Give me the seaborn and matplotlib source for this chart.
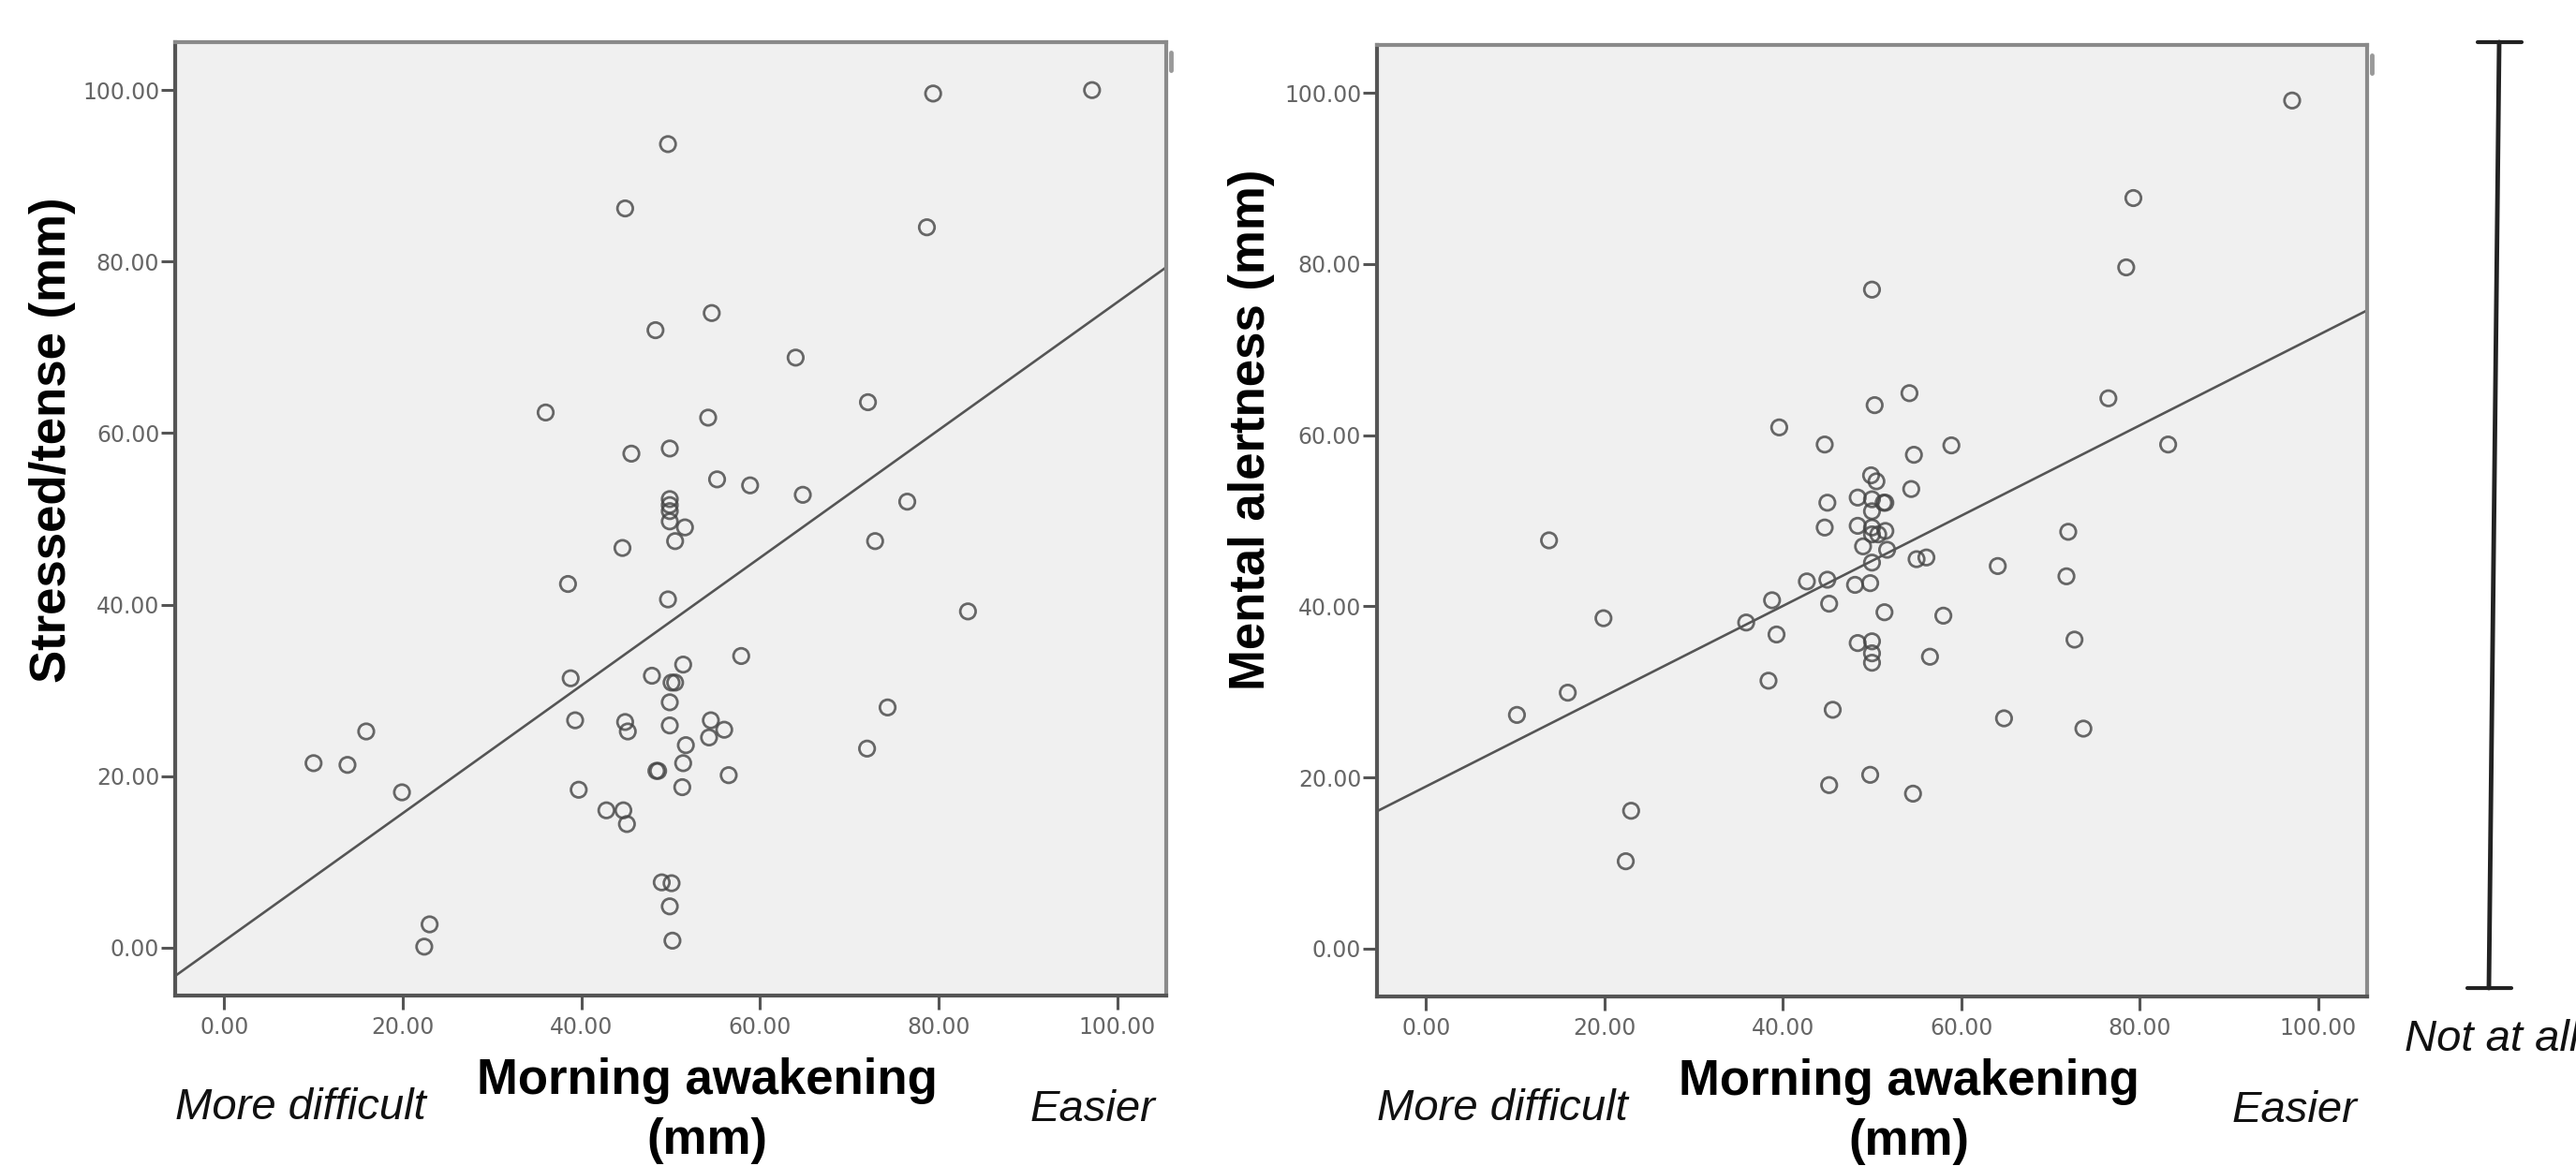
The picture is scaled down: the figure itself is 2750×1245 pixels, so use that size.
import matplotlib
matplotlib.use("Agg")
import matplotlib.pyplot as plt
from matplotlib.lines import Line2D
import seaborn as sns

# Morning awakening vs stressed/tense (left panel)
awake_stress = [97.2, 79.4, 49.7, 44.9, 78.7, 54.6, 48.3, 64.0, 36.0, 72.1,
                54.2, 45.6, 49.9, 55.2, 58.9, 64.8, 76.5, 49.9, 49.9, 49.9,
                49.9, 51.6, 50.5, 72.9, 44.6, 38.5, 49.7, 83.3, 57.9, 51.4,
                47.9, 38.8, 50.1, 50.5, 49.9, 74.3, 39.3, 44.9, 49.9, 54.5,
                45.2, 56.0, 54.3, 15.9, 51.7, 72.0, 10.0, 13.8, 51.4, 48.4,
                48.6, 56.5, 19.9, 39.7, 51.3, 42.8, 44.7, 45.1, 49.0, 50.1,
                49.9, 50.2, 23.0, 22.4]
stressed = [100.0, 99.6, 93.7, 86.2, 84.0, 74.0, 72.0, 68.8, 62.4, 63.6,
            61.8, 57.6, 58.2, 54.6, 53.9, 52.8, 52.0, 52.3, 51.6, 50.9,
            49.7, 49.0, 47.4, 47.4, 46.6, 42.4, 40.6, 39.2, 34.0, 33.0,
            31.7, 31.4, 30.9, 30.9, 28.6, 28.0, 26.5, 26.3, 25.9, 26.5,
            25.2, 25.4, 24.5, 25.2, 23.6, 23.2, 21.5, 21.3, 21.5, 20.6,
            20.6, 20.1, 18.1, 18.4, 18.7, 16.0, 16.0, 14.4, 7.6, 7.5,
            4.8, 0.8, 2.7, 0.1]

# Morning awakening vs mental alertness (right panel)
awake_alert = [97.1, 79.3, 78.5, 50.0, 54.2, 76.5, 50.3, 39.6, 44.7, 83.2,
               58.9, 54.7, 49.9, 50.5, 54.4, 48.4, 50.0, 45.0, 51.3, 51.5,
               50.0, 48.4, 44.7, 50.0, 51.5, 50.0, 50.7, 72.0, 13.8, 49.0,
               51.7, 55.0, 56.1, 50.0, 64.1, 71.8, 42.7, 45.0, 48.1, 49.8,
               38.8, 45.2, 51.4, 58.0, 19.9, 35.9, 39.3, 48.4, 50.0, 72.7,
               50.0, 56.5, 50.0, 38.4, 15.9, 10.2, 45.6, 64.8, 73.7, 49.8,
               45.2, 54.6, 23.0, 22.4]
alertness = [99.1, 87.7, 79.6, 77.0, 64.9, 64.3, 63.5, 60.9, 58.9, 58.9,
             58.8, 57.7, 55.3, 54.6, 53.7, 52.7, 52.5, 52.1, 52.1, 52.1,
             51.1, 49.4, 49.2, 49.2, 48.8, 48.4, 48.4, 48.7, 47.7, 47.0,
             46.6, 45.5, 45.7, 45.1, 44.7, 43.5, 42.9, 43.1, 42.5, 42.7,
             40.7, 40.3, 39.3, 38.9, 38.6, 38.1, 36.7, 35.7, 35.9, 36.1,
             34.5, 34.1, 33.4, 31.3, 29.9, 27.3, 27.9, 26.9, 25.7, 20.3,
             19.1, 18.1, 16.1, 10.2]

ticks = [0, 20, 40, 60, 80, 100]
tick_labels = ["0.00", "20.00", "40.00", "60.00", "80.00", "100.00"]
x_title = "Morning awakening"
x_unit = "(mm)"
y_titles = ["Stressed/tense (mm)", "Mental alertness (mm)"]
low_label = "More difficult"
high_label = "Easier"
scale_label = "Not at all"

sns.set_theme(style="white")
plt.rcParams["font.family"] = ["Liberation Sans", "DejaVu Sans"]
plt.rcParams["text.color"] = "#000000"

fig = plt.figure(figsize=(27.5, 12.45), dpi=100)
ax1 = fig.add_axes([0.0680, 0.1462, 0.3847, 0.8177])
ax2 = fig.add_axes([0.5345, 0.1454, 0.3844, 0.8161])

panels = [(ax1, awake_stress, stressed, y_titles[0], 0.583, -0.124, 0.989),
          (ax2, awake_alert, alertness, y_titles[1], 0.596, -0.127, 0.990)]

for ax, xs, ys, ytitle, ymid, yx, easy_x in panels:
    ax.set_facecolor("#f0f0f0")
    ax.set_xlim(-5.5, 105.5)
    ax.set_ylim(-5.6, 105.6)
    sns.regplot(x=xs, y=ys, ax=ax, ci=None, truncate=False, color="#444444",
                scatter_kws=dict(s=140, facecolors="none", linewidths=2.0),
                line_kws=dict(color="#555555", lw=1.9))
    ax.set_xlim(-5.5, 105.5)
    ax.set_ylim(-5.6, 105.6)
    ax.set_xticks(ticks)
    ax.set_xticklabels(tick_labels)
    ax.set_yticks(ticks)
    ax.set_yticklabels(tick_labels)
    ax.tick_params(axis="both", direction="out", length=11, width=2.2,
                   color="#555555", labelcolor="#666666", labelsize=17)
    ax.tick_params(axis="x", pad=5, bottom=True)
    ax.tick_params(axis="y", pad=1, left=True)
    for lab in ax.get_xticklabels() + ax.get_yticklabels():
        lab.set_family("DejaVu Sans")
    for side in ["left", "bottom"]:
        ax.spines[side].set_color("#555555")
        ax.spines[side].set_linewidth(3)
    for side in ["top", "right"]:
        ax.spines[side].set_color("#8a8a8a")
        ax.spines[side].set_linewidth(3)
    ax.set_xlabel("")
    ax.set_ylabel("")
    ax.text(yx, ymid, ytitle, transform=ax.transAxes, rotation=90,
            ha="center", va="center", fontsize=38, fontweight="bold",
            color="#000000")
    ax.text(0.537, -0.1031, x_title, transform=ax.transAxes, ha="center",
            va="baseline", fontsize=38, fontweight="bold", color="#000000")
    ax.text(0.537, -0.166, x_unit, transform=ax.transAxes, ha="center",
            va="baseline", fontsize=38, fontweight="bold", color="#000000")
    ax.text(0.0, -0.118, low_label, transform=ax.transAxes, ha="left",
            va="center", fontsize=34, style="italic", color="#111111")
    ax.text(easy_x, -0.120, high_label, transform=ax.transAxes, ha="right",
            va="center", fontsize=34, style="italic", color="#111111")
    # small leftover marker at the top right corner
    ax.add_line(Line2D([1.005, 1.005], [0.989, 0.970], transform=ax.transAxes,
                       color="#999999", lw=3.5, clip_on=False))

# vertical scale bar on the right
W, H = 2750.0, 1245.0
fig.add_artist(Line2D([2668 / W, 2657 / W], [1 - 45 / H, 1 - 1055 / H],
                      color="#222222", lw=3.5))
fig.add_artist(Line2D([2645 / W, 2692 / W], [1 - 45 / H, 1 - 45 / H],
                      color="#222222", lw=3))
fig.add_artist(Line2D([2634 / W, 2681 / W], [1 - 1055 / H, 1 - 1055 / H],
                      color="#222222", lw=3))
fig.text(2567 / W, 1 - 1110 / H, scale_label, ha="left", va="center",
         fontsize=34, style="italic", color="#111111")

fig.savefig("out.png", dpi=100)
